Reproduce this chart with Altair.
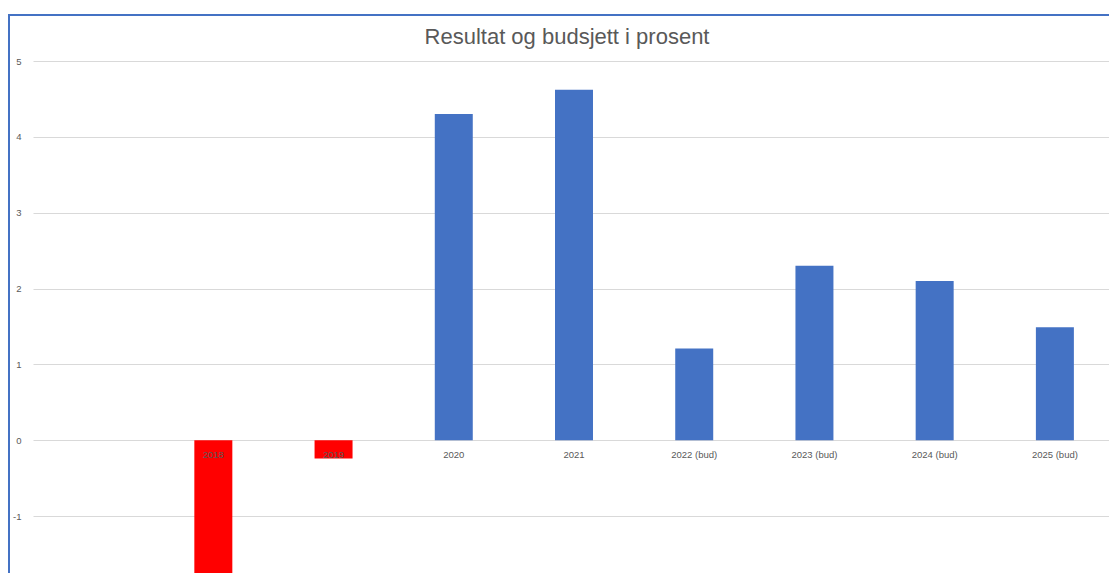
import altair as alt
import pandas as pd

categories = [" ", "2018", "2019", "2020", "2021", "2022 (bud)", "2023 (bud)", "2024 (bud)", "2025 (bud)"]
years = ["2018", "2019", "2020", "2021", "2022 (bud)", "2023 (bud)", "2024 (bud)", "2025 (bud)"]
values = [-1.81, -0.24, 4.30, 4.62, 1.21, 2.30, 2.10, 1.49]
y_ticks = [-1, 0, 1, 2, 3, 4, 5]
title_text = "Resultat og budsjett i prosent"

df = pd.DataFrame({"aar": years, "verdi": values})

W, H = 1082, 512

x_enc = alt.X("aar:N", sort=categories,
              scale=alt.Scale(domain=categories, paddingInner=0, paddingOuter=0),
              axis=None)
y_scale = alt.Scale(domain=[-1.75, 5], nice=False, zero=False)

bars = alt.Chart(df).mark_bar(width={"band": 0.316}, clip=True).encode(
    x=x_enc,
    y=alt.Y("verdi:Q", scale=y_scale,
            axis=alt.Axis(values=y_ticks, labelExpr="'' + datum.value", title=None, grid=True,
                          gridColor="#d9d9d9", domain=False, ticks=False, labelPadding=12,
                          labelFontSize=9.5, labelColor="#595959", labelFont="Liberation Sans")),
    color=alt.condition(alt.datum.verdi < 0, alt.value("#ff0000"), alt.value("#4472c4")),
)

labels = alt.Chart(df).mark_text(dy=15, fontSize=9.5, color="#595959",
                                 font="Liberation Sans", baseline="middle").encode(
    x=x_enc,
    y=alt.datum(0, scale=y_scale),
    text="aar:N",
)

border = alt.Chart(pd.DataFrame({"a": [0]})).mark_rect(
    fill=None, fillOpacity=0, stroke="#4472c4", strokeWidth=2, clip=False
).encode(
    x=alt.value(-24), x2=alt.value(1300), y=alt.value(-46), y2=alt.value(800)
)

title = alt.Chart(pd.DataFrame({"t": [title_text]})).mark_text(
    fontSize=22, color="#595959", font="Liberation Sans", baseline="alphabetic", align="center"
).encode(
    x=alt.value(534), y=alt.value(-17), text="t:N"
)

chart = alt.layer(border, bars, labels, title).properties(
    width=W, height=H,
    autosize=alt.AutoSizeParams(type="none"),
    padding={"left": 25, "top": 53, "right": -6, "bottom": 0},
).configure_view(stroke=None)

chart.save("out.html", embed_options={"renderer": "svg", "actions": False})
